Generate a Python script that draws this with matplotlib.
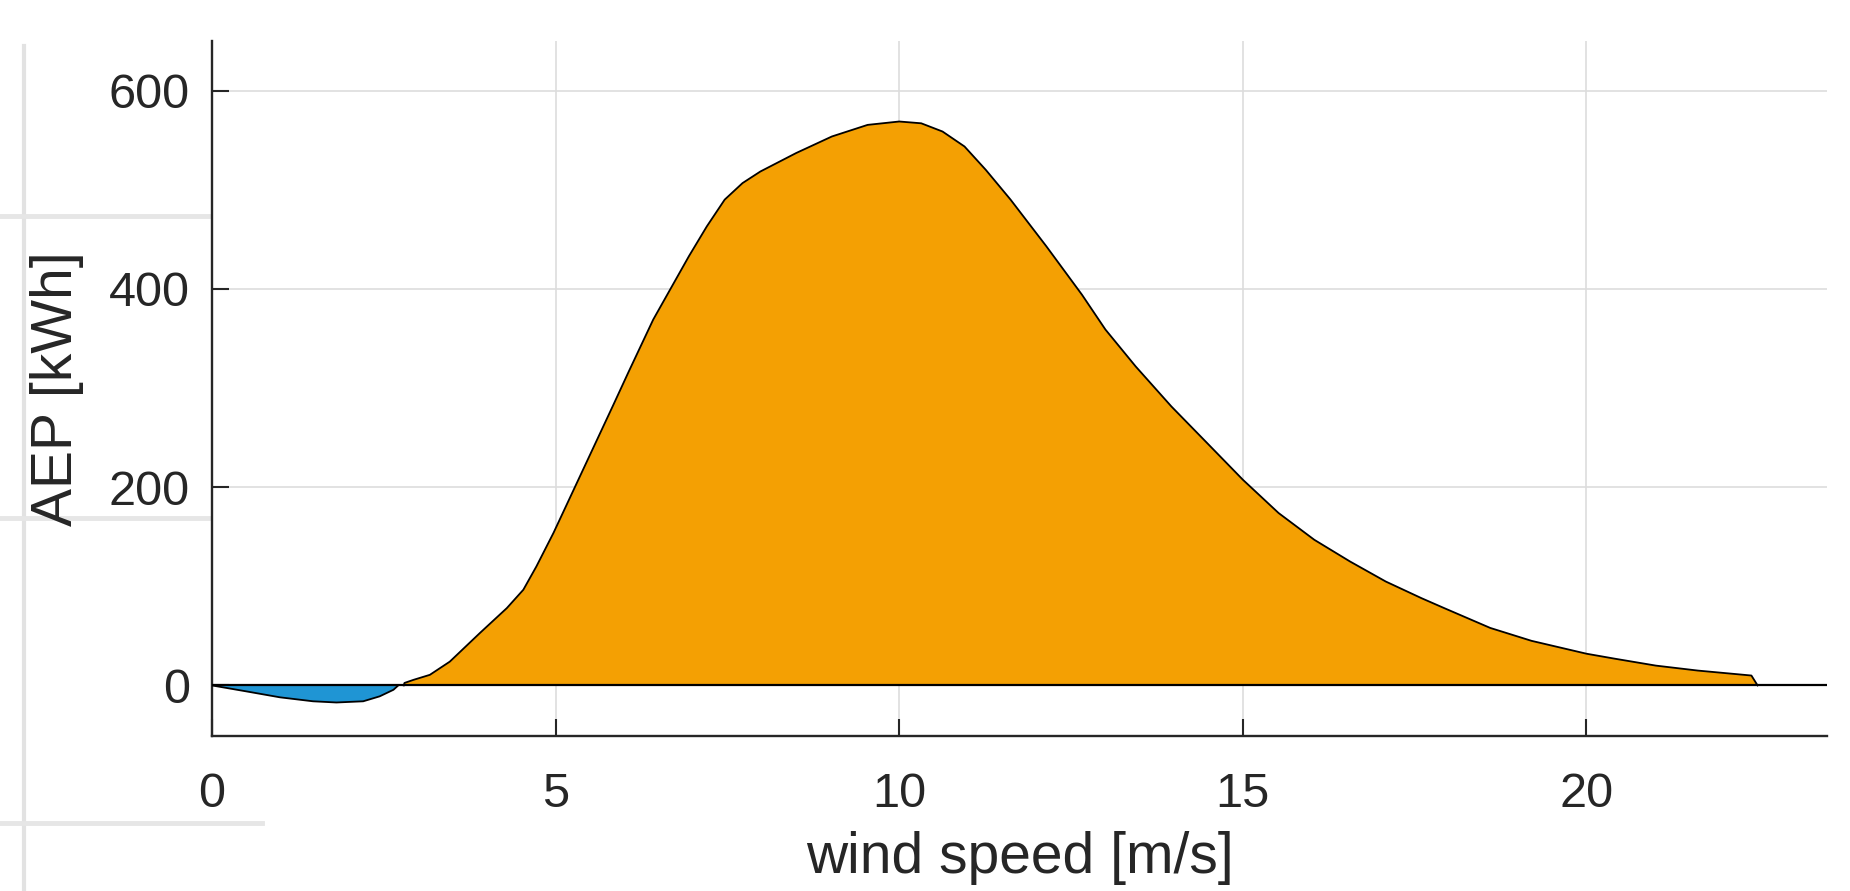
import numpy as np
import matplotlib
matplotlib.use("Agg")
import matplotlib.pyplot as plt
from matplotlib.lines import Line2D

# AEP loss below cut-in (blue) and AEP gain (orange)
ws_loss = [0.0, 0.5, 0.99, 1.47, 1.81, 2.2, 2.44, 2.64, 2.71]
aep_loss = [0.0, -6.0, -12.0, -16.0, -17.2, -16.0, -11.0, -4.4, 0.0]

ws_gain = [2.79, 2.80, 2.93, 3.17, 3.46, 3.90, 4.29, 4.53, 4.72, 4.97, 5.26, 5.55,
           5.84, 6.06, 6.42, 6.68, 6.94, 7.20, 7.46, 7.72, 7.98, 8.50, 9.02, 9.54,
           10.0, 10.32, 10.63, 10.95, 11.26, 11.62, 12.14, 12.66, 13.0, 13.44, 13.96,
           14.48, 15.0, 15.52, 16.04, 16.56, 17.08, 17.60, 17.93, 18.6, 19.2, 20.0,
           20.41, 21.01, 21.62, 22.40, 22.49]
aep_gain = [0.0, 2.5, 5.6, 10.7, 24, 53, 78, 96.5, 120, 154, 197, 240,
            283, 316, 369, 401, 433, 463, 490, 506.7, 518.4, 537, 553.7, 565.4,
            568.8, 567, 558.7, 543.6, 520, 490, 443, 394, 359, 321.8, 281.4,
            244.5, 207.5, 173.9, 146.9, 125, 104.8, 88, 78, 58, 45, 32,
            27, 20, 15, 10.0, 0.0]

xticks = [0, 5, 10, 15, 20]
yticks = [0, 200, 400, 600]

plt.rcParams['font.family'] = ['Liberation Sans', 'DejaVu Sans']
dark = '#262626'

W, H = 1850, 891
fig = plt.figure(figsize=(W / 100, H / 100), dpi=100)
ax = fig.add_axes([212 / W, 1 - 736 / H, (1827 - 212) / W, (736 - 41) / H])

ax.fill_between(ws_loss, aep_loss, 0, color='#1f95d4', edgecolor='none', zorder=2)
ax.plot(ws_loss, aep_loss, color='black', lw=1.3, zorder=3)
ax.fill_between(ws_gain, aep_gain, 0, color='#f4a003', edgecolor='none', zorder=2)
ax.plot(ws_gain, aep_gain, color='black', lw=1.3, zorder=3)
ax.axhline(0, color='black', lw=1.6, zorder=3)

ax.set_xlim(0, 23.5)
ax.set_ylim(-51, 650)
ax.set_xticks(xticks)
ax.set_yticks(yticks)
ax.grid(True, color='#dddddd', lw=1.2, zorder=0)
ax.set_axisbelow(True)

for s in ['top', 'right']:
    ax.spines[s].set_visible(False)
for s in ['left', 'bottom']:
    ax.spines[s].set_color(dark)
    ax.spines[s].set_linewidth(1.7)

ax.tick_params(direction='in', length=12, width=1.5, color=dark,
               labelsize=35, labelcolor=dark)
ax.tick_params(axis='y', pad=16)
ax.tick_params(axis='x', pad=26)

# nudged up a little so the descenders stay inside the figure
ax.set_xlabel('wind speed [m/s]', fontsize=41, color=dark, labelpad=10)
ax.set_ylabel('AEP [kWh]', fontsize=41, color=dark, labelpad=18)

# faint grey screenshot edges on the left side
def hline(y, x0, x1):
    fig.add_artist(Line2D([x0 / W, x1 / W], [1 - y / H, 1 - y / H],
                          transform=fig.transFigure, color='#e6e6e6', lw=3.5,
                          zorder=-1))

fig.add_artist(Line2D([24 / W, 24 / W], [1 - 46 / H, 0], transform=fig.transFigure,
                      color='#e2e2e2', lw=3.0, zorder=-1))
hline(216, 0, 210)
hline(518, 0, 210)
hline(823, 0, 262)

fig.savefig('out.png', dpi=100)
